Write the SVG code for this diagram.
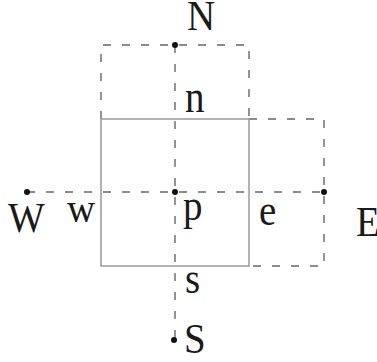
<svg xmlns="http://www.w3.org/2000/svg" width="377" height="362" viewBox="0 0 377 362">
<style>
.dash{fill:none;stroke:#666;stroke-width:1.4;stroke-dasharray:8,11}
.solid{fill:none;stroke:#999;stroke-width:1.5}
.dot{fill:#111}
text{font-family:"Liberation Serif","Times New Roman",serif;font-size:39px;fill:#1a1a1a}
</style>
<rect width="377" height="362" fill="#fff"/>
<g id="connectors">
<path class="dash" d="M101,119 V45 H249 V119"/>
<path class="dash" d="M249,119 H324 V266 H249"/>
<line class="dash" x1="175" y1="45" x2="175" y2="340"/>
<line class="dash" x1="27" y1="192" x2="324" y2="192"/>
</g>
<g id="cell-p">
<rect class="solid" x="101" y="119" width="148" height="147"/>
<circle class="dot" cx="175" cy="192" r="3"/>
<text transform="translate(183,220) scale(1,1.12)">p</text>
</g>
<g id="node-N"><circle class="dot" cx="175" cy="45" r="3"/><text transform="translate(187,30) scale(1,1.08)">N</text></g>
<g id="node-S"><circle class="dot" cx="174" cy="340" r="3"/><text transform="translate(184,353) scale(1,1.1)">S</text></g>
<g id="node-W"><circle class="dot" cx="27" cy="192" r="3"/><text transform="translate(8,232) scale(1,1.1)">W</text></g>
<g id="node-E"><circle class="dot" cx="324" cy="192" r="3"/><text transform="translate(356,236) scale(1,1.1)">E</text></g>
<g id="face-n"><text transform="translate(185,112) scale(1,1.2)">n</text></g>
<g id="face-s"><text transform="translate(185,293) scale(1,1.15)">s</text></g>
<g id="face-w"><text transform="translate(67,222) scale(1,1.1)">w</text></g>
<g id="face-e"><text transform="translate(259,225) scale(1,1.15)">e</text></g>
</svg>
